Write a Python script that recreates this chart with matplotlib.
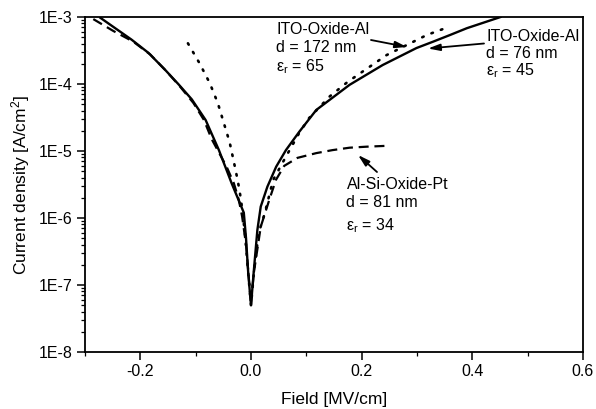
import matplotlib
matplotlib.use("Agg")
import matplotlib.pyplot as plt
from matplotlib.ticker import FixedLocator, LogLocator, MultipleLocator, NullFormatter

plt.rcParams['font.family'] = ['Liberation Sans', 'DejaVu Sans']
plt.rcParams['mathtext.default'] = 'regular'

# ---- data ----
# ITO-Oxide-Al, d = 76 nm (solid)
solid_x = [-0.272, -0.216, -0.185, -0.155, -0.131, -0.107, -0.082, -0.058, -0.035,
           -0.013, -0.009, -0.005, 0.0, 0.005, 0.0115, 0.0176, 0.0296, 0.0455,
           0.0631, 0.0873, 0.118, 0.178, 0.238, 0.299, 0.329, 0.36, 0.39, 0.451]
solid_y = [9.7e-4, 4.6e-4, 2.9e-4, 1.62e-4, 9.9e-5, 5.9e-5, 2.9e-5, 1.03e-5, 3.3e-6,
           1.2e-6, 5.0e-7, 1.5e-7, 5.0e-8, 1.6e-7, 6.6e-7, 1.48e-6, 2.93e-6, 5.83e-6,
           1.03e-5, 1.94e-5, 4.1e-5, 9.7e-5, 1.92e-4, 3.44e-4, 4.28e-4, 5.4e-4, 6.8e-4, 1.0e-3]

# ITO-Oxide-Al, d = 172 nm (dotted)
dot_x = [-0.114, -0.093, -0.0745, -0.06, -0.049, -0.0387, -0.031, -0.0236, -0.018,
         -0.011, -0.005, 0.0, 0.006, 0.014, 0.025, 0.04, 0.06, 0.087, 0.105, 0.142,
         0.175, 0.211, 0.245, 0.281, 0.318, 0.351]
dot_y = [4.05e-4, 2.04e-4, 1.03e-4, 5.2e-5, 2.6e-5, 1.36e-5, 6.9e-6, 3.5e-6, 1.86e-6,
         6.0e-7, 1.5e-7, 5.0e-8, 1.8e-7, 6.0e-7, 1.19e-6, 3.7e-6, 7.4e-6, 1.85e-5, 3.1e-5,
         6.5e-5, 1.08e-4, 1.73e-4, 2.7e-4, 3.8e-4, 5.4e-4, 6.8e-4]

# Al-Si-Oxide-Pt, d = 81 nm (dashed)
dash_x = [-0.285, -0.249, -0.213, -0.182, -0.155, -0.128, -0.104, -0.085, -0.071,
          -0.044, -0.031, -0.022, -0.016, -0.009, -0.004, 0.0, 0.005, 0.0176, 0.0255,
          0.033, 0.045, 0.06, 0.084, 0.118, 0.147, 0.178, 0.209, 0.251]
dash_y = [9.3e-4, 6.2e-4, 4.3e-4, 2.75e-4, 1.62e-4, 9.1e-5, 5.2e-5, 2.9e-5, 1.5e-5,
          5.8e-6, 3.3e-6, 1.86e-6, 1.05e-6, 4.0e-7, 1.3e-7, 5.0e-8, 1.5e-7, 7.4e-7, 1.19e-6,
          1.86e-6, 3.7e-6, 6.0e-6, 7.9e-6, 9.3e-6, 1.03e-5, 1.12e-5, 1.16e-5, 1.2e-5]

xticks = [-0.2, 0.0, 0.2, 0.4, 0.6]
xtick_labels = ["-0.2", "0.0", "0.2", "0.4", "0.6"]
yticks = [1e-8, 1e-7, 1e-6, 1e-5, 1e-4, 1e-3]
ytick_labels = ["1E-8", "1E-7", "1E-6", "1E-5", "1E-4", "1E-3"]

# ---- figure ----
W, H = 596, 409
fig = plt.figure(figsize=(W / 100, H / 100), dpi=100)
L, R, T, B = 85, 583, 17, 352
ax = fig.add_axes([L / W, 1 - B / H, (R - L) / W, (B - T) / H])

ax.plot(solid_x, solid_y, color='black', lw=1.7, ls='-')
ax.plot(dot_x, dot_y, color='black', lw=1.9, ls=(0, (0.6, 3.2)), dash_capstyle='round')
ax.plot(dash_x, dash_y, color='black', lw=1.6, ls=(0, (4.5, 2.6)))

ax.set_yscale('log')
ax.set_xlim(-0.3, 0.6)
ax.set_ylim(1e-8, 1e-3)

ax.xaxis.set_major_locator(FixedLocator(xticks))
ax.set_xticklabels(xtick_labels)
ax.xaxis.set_minor_locator(MultipleLocator(0.1))
ax.yaxis.set_major_locator(FixedLocator(yticks))
ax.set_yticklabels(ytick_labels)
ax.yaxis.set_minor_locator(LogLocator(base=10, subs=range(2, 10)))
ax.yaxis.set_minor_formatter(NullFormatter())

ax.tick_params(which='major', direction='out', length=6, width=1.1, labelsize=11.5, pad=3)
ax.tick_params(which='minor', direction='out', length=3, width=0.9)
for s in ax.spines.values():
    s.set_linewidth(1.3)

ax.set_xlabel("Field [MV/cm]", fontsize=12.5, labelpad=9)
ax.set_ylabel("Current density [A/cm$^2$]", fontsize=12.5, labelpad=5)


def axp(px, py):
    return ((px - L) / (R - L), (B - py) / (B - T))


fs = 11.5
# annotation 1: ITO-Oxide-Al 172 nm
for txt, py in [("ITO-Oxide-Al", 30), ("d = 172 nm", 47.5), ("ε$_r$ = 65", 66.5)]:
    ax.text(*axp(276.5, py), txt, transform=ax.transAxes, fontsize=fs, ha='left', va='center')
ax.annotate("", xy=axp(407, 47), xycoords='axes fraction', xytext=axp(371, 40),
            textcoords='axes fraction',
            arrowprops=dict(arrowstyle='-|>,head_length=0.7,head_width=0.2', lw=1.3, color='black',
                            shrinkA=0, shrinkB=0))

# annotation 2: ITO-Oxide-Al 76 nm
for txt, py in [("ITO-Oxide-Al", 37), ("d = 76 nm", 53.5), ("ε$_r$ = 45", 71)]:
    ax.text(*axp(486.5, py), txt, transform=ax.transAxes, fontsize=fs, ha='left', va='center')
ax.annotate("", xy=axp(428, 48.5), xycoords='axes fraction', xytext=axp(484, 43.5),
            textcoords='axes fraction',
            arrowprops=dict(arrowstyle='-|>,head_length=0.7,head_width=0.2', lw=1.3, color='black',
                            shrinkA=0, shrinkB=0))

# annotation 3: Al-Si-Oxide-Pt
for txt, py in [("Al-Si-Oxide-Pt", 184.5), ("d = 81 nm", 202.5), ("ε$_r$ = 34", 225.5)]:
    ax.text(*axp(346.5, py), txt, transform=ax.transAxes, fontsize=fs, ha='left', va='center')
ax.annotate("", xy=axp(358, 155), xycoords='axes fraction', xytext=axp(377, 172),
            textcoords='axes fraction',
            arrowprops=dict(arrowstyle='-|>,head_length=0.7,head_width=0.2', lw=1.3, color='black',
                            shrinkA=0, shrinkB=0))

fig.savefig("out.png", dpi=100)
